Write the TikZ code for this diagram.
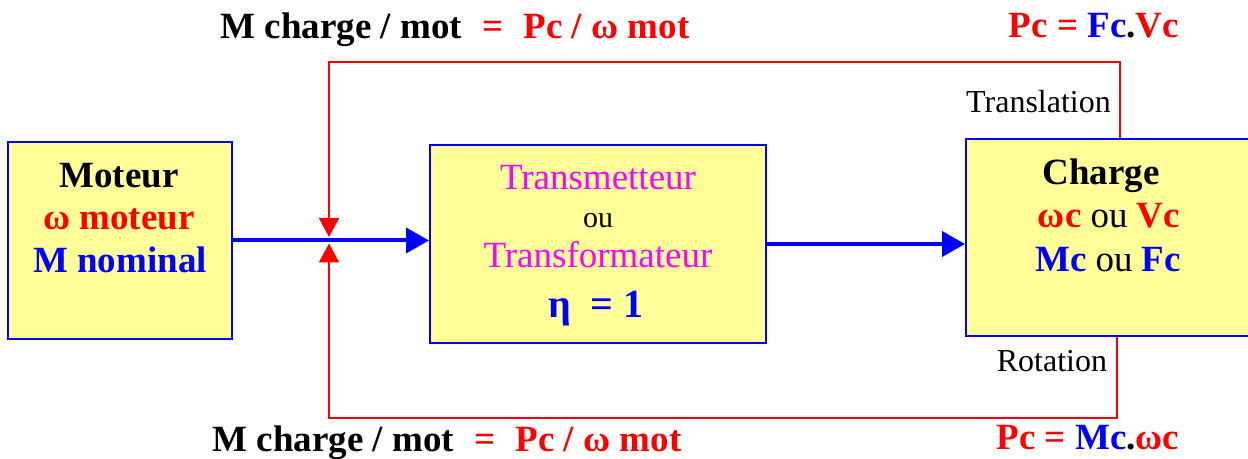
\documentclass[tikz,border=0pt]{standalone}
\usepackage{fontspec}
\setmainfont{Liberation Serif}
\usetikzlibrary{arrows.meta}
\definecolor{rd}{RGB}{255,0,0}
\definecolor{bl}{RGB}{0,0,255}
\definecolor{mg}{RGB}{255,0,255}
\definecolor{yl}{RGB}{255,255,153}
\begin{document}
\begin{tikzpicture}[x=0.5pt,y=-0.5pt]
\tikzset{
 box/.style={draw=bl, fill=yl, line width=1pt, inner sep=0pt},
 big/.style={font=\fontsize{18.5}{20}\selectfont, anchor=base, inner sep=0pt},
 small/.style={font=\fontsize{16}{18}\selectfont, anchor=base, inner sep=0pt},
 flow/.style={draw=bl, line width=2pt, -{Triangle[length=11.5pt,width=12.5pt]}},
 feed/.style={draw=rd, line width=1pt, -{Triangle[length=9.5pt,width=10pt]}},
}
\useasboundingbox (0,0) rectangle (1248,459);
\clip (0,0) rectangle (1248,459);
\fill[white] (0,0) rectangle (1248,459);
% boxes
\node[box, minimum width=112pt, minimum height=98.5pt] (mot) at (120,240.5) {};
\node[box, minimum width=168pt, minimum height=99pt] (tr) at (598,244) {};
\node[box, minimum width=150pt, minimum height=98.5pt] (ch) at (1116,237.5) {};
% box texts
\node[big] (m1) at (119,188) {\bfseries Moteur};
\node[big, text=rd] (m2) at (119,230) {\bfseries ω moteur};
\node[big, text=bl] (m3) at (120,273) {\bfseries M nominal};
\node[big, text=mg] (r1) at (598,190) {Transmetteur};
\node[font=\fontsize{15}{17}\selectfont, anchor=base, inner sep=0pt] (r2) at (598,228) {ou};
\node[big, text=mg] (r3) at (598,268) {Transformateur};
\node[font=\fontsize{20}{22}\selectfont\bfseries, anchor=base, inner sep=0pt, text=bl] (r4) at (596,318) {η\hspace{0.5em}= 1};
\node[big] (c1) at (1101,185) {\bfseries Charge};
\node[big] (c2) at (1109,228) {\textbf{\color{rd}ωc} ou \textbf{\color{rd}Vc}};
\node[big] (c3) at (1108,272) {\textbf{\color{bl}Mc} ou \textbf{\color{bl}Fc}};
% formulas
\node[big] (ft) at (455,39) {\bfseries M charge / mot\hspace{0.55em}\color{rd}=\hspace{0.55em}Pc / ω mot};
\node[big] (fb) at (447,452) {\bfseries M charge / mot\hspace{0.55em}\color{rd}=\hspace{0.55em}Pc / ω mot};
\node[big] (pt) at (1094,38) {\bfseries\color{rd}Pc = \color{bl}Fc\color{black}.\color{rd}Vc};
\node[big] (pb) at (1088,450) {\bfseries\color{rd}Pc = \color{bl}Mc\color{black}.\color{rd}ωc};
\node[small] (lt) at (1038.5,113) {Translation};
\node[small] (lr) at (1052,372) {Rotation};
% flow arrows
\draw[flow] (mot.east) -- (mot.east -| tr.west);
\draw[flow] (tr.east) -- (tr.east -| ch.west);
% feedback lines
\coordinate (jt) at (329,237);
\coordinate (jb) at (329,243.5);
\coordinate (ct) at (1120,62);
\coordinate (cb) at (1117,418);
\draw[feed] (ch.north -| ct) -- (ct) -| (jt);
\draw[feed] (ch.south -| cb) -- (cb) -| (jb);
\end{tikzpicture}
\end{document}
